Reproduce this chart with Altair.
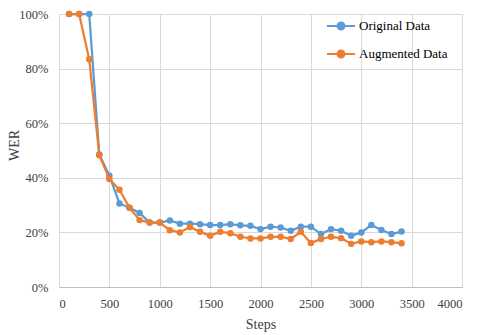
import altair as alt
import pandas as pd

steps = [100, 200, 300, 400, 500, 600, 700, 800, 900, 1000, 1100, 1200, 1300, 1400, 1500, 1600, 1700,
         1800, 1900, 2000, 2100, 2200, 2300, 2400, 2500, 2600, 2700, 2800, 2900, 3000, 3100, 3200, 3300, 3400]
original = [1.00, 1.00, 1.00, 0.485, 0.408, 0.306, 0.290, 0.271, 0.236, 0.236, 0.244, 0.232, 0.232, 0.230,
            0.227, 0.227, 0.230, 0.226, 0.224, 0.212, 0.221, 0.218, 0.206, 0.221, 0.221, 0.194, 0.212,
            0.206, 0.188, 0.200, 0.227, 0.209, 0.194, 0.203]
augmented = [1.00, 1.00, 0.834, 0.483, 0.396, 0.356, 0.290, 0.245, 0.236, 0.236, 0.208, 0.200, 0.220,
             0.202, 0.188, 0.202, 0.197, 0.184, 0.178, 0.178, 0.184, 0.184, 0.176, 0.202, 0.161, 0.176,
             0.184, 0.179, 0.158, 0.167, 0.164, 0.167, 0.164, 0.160]
series_names = ["Original Data", "Augmented Data"]
colors = ["#5B9BD5", "#ED7D31"]

df = pd.DataFrame({
    "Steps": steps * 2,
    "WER": original + augmented,
    "Series": [series_names[0]] * len(steps) + [series_names[1]] * len(steps),
})

FONT = "Liberation Serif"
TXT = "#404040"

color = alt.Color(
    "Series:N",
    scale=alt.Scale(domain=series_names, range=colors),
    legend=alt.Legend(
        title=None,
        orient="none",
        legendX=274,
        legendY=4,
        symbolType="M-2,0 L2,0 M-0.5,0 A0.5,0.5 0 1,1 0.5,0 A0.5,0.5 0 1,1 -0.5,0",
        symbolSize=196,
        symbolStrokeWidth=2,
        labelFont=FONT,
        labelFontSize=13,
        labelColor="#000000",
        rowPadding=12,
        labelOffset=10,
    ),
)

x = alt.X("Steps:Q", scale=alt.Scale(domain=[0, 4000], nice=False),
          axis=alt.Axis(values=list(range(0, 4001, 500)), format="d", title="Steps"))
y = alt.Y("WER:Q", scale=alt.Scale(domain=[0, 1], nice=False),
          axis=alt.Axis(values=[0, 0.2, 0.4, 0.6, 0.8, 1.0], format=".0%", title="WER",
                        titleX=-41, titleY=131, titleBaseline="alphabetic", titleAngle=270))

base = alt.Chart(df).encode(x=x, y=y, color=color)

layers = []
for name in series_names:
    layers.append(
        base.transform_filter(alt.datum.Series == name)
        .mark_line(strokeWidth=2.25, point=alt.OverlayMarkDef(filled=True, size=42, opacity=1))
    )

chart = alt.layer(*layers).properties(
    width=403,
    height=273,
    autosize=alt.AutoSizeParams(type="none"),
    padding={"left": 51, "top": 6, "right": 10, "bottom": 48},
).configure_view(stroke=None).configure_axis(
    labelFont=FONT,
    labelFontSize=12.5,
    labelColor=TXT,
    titleFont=FONT,
    titleFontSize=14,
    titleColor=TXT,
    titleFontWeight="normal",
    grid=True,
    gridColor="#d9d9d9",
    gridWidth=1,
    ticks=False,
    domainColor="#bfbfbf",
).configure_axisY(domain=False, labelPadding=11).configure_axisX(titlePadding=8, labelPadding=10)

chart.save("out.html", embed_options={"renderer": "svg", "actions": False})
